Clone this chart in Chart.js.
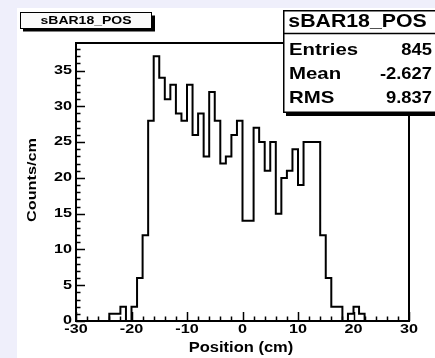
<!DOCTYPE html>
<html>
<head>
<meta charset="utf-8">
<script src="https://cdn.jsdelivr.net/npm/chart.js@4.4.1/dist/chart.umd.min.js"></script>
<style>
  html, body { margin: 0; padding: 0; background: #efeffb; }
  #wrap { position: relative; width: 435px; height: 358px; }
  canvas { display: block; }
</style>
</head>
<body>
<div id="wrap"><canvas id="c" width="435" height="358"></canvas></div>
<script>
// Histogram sBAR18_POS: bin edges (cm) and counts per 1 cm bin
const binEdges = [
  -30, -29, -28, -27, -26, -25, -24, -23, -22, -21,
  -20, -19, -18, -17, -16, -15, -14, -13, -12, -11,
  -10, -9, -8, -7, -6, -5, -4, -3, -2, -1,
  0, 1, 2, 3, 4, 5, 6, 7, 8, 9,
  10, 11, 12, 13, 14, 15, 16, 17, 18, 19,
  20, 21, 22, 23, 24, 25, 26, 27, 28, 29, 30
];
const counts = [
  0, 0, 0, 0, 0, 0, 1, 1, 2, 0,
  2, 6, 12, 28, 37, 34, 31, 33, 29, 28,
  33, 26, 29, 23, 32, 28, 22, 23, 26, 28,
  14, 14, 27, 25, 21, 25, 15, 20, 21, 24,
  19, 25, 25, 25, 12, 6, 2, 2, 0, 1,
  2, 1, 0, 0, 0, 0, 0, 0, 0, 0
];
const xTickValues = [-30, -20, -10, 0, 10, 20, 30];
const xTickLabels = ['-30', '-20', '-10', '0', '10', '20', '30'];
const yTickValues = [0, 5, 10, 15, 20, 25, 30, 35];
const yTickLabels = ['0', '5', '10', '15', '20', '25', '30', '35'];
const histTitle = 'sBAR18_POS';
const statNames = ['Entries', 'Mean', 'RMS'];
const statValues = ['845', '-2.627', '9.837'];
const xTitle = 'Position (cm)';
const yTitle = 'Counts/cm';

const yMax = Math.max(...counts) * 1.05;

// step outline: each bin's low edge carries its count, the last edge closes the final bin
const outline = binEdges.map((e, i) => ({ x: e, y: counts[Math.min(i, counts.length - 1)] }));

const FONT = '"Liberation Sans", Arial, sans-serif';

function stretchedText(ctx, text, x, y, size, align, sx, rot) {
  ctx.save();
  ctx.font = 'bold ' + size + 'px ' + FONT;
  ctx.textAlign = align;
  ctx.textBaseline = 'middle';
  ctx.fillStyle = '#000';
  ctx.translate(x, y);
  if (rot) ctx.rotate(rot);
  ctx.scale(sx, 1);
  ctx.fillText(text, 0, 0);
  ctx.restore();
}

const padPlugin = {
  id: 'rootPad',
  beforeDraw(chart) {
    const ctx = chart.ctx;
    ctx.save();
    ctx.fillStyle = '#efeffb';
    ctx.fillRect(0, 0, chart.width, chart.height);
    ctx.fillStyle = '#ffffff';
    ctx.fillRect(17, 8, chart.width - 17, chart.height - 8);
    ctx.restore();
  },
  afterDraw(chart) {
    const ctx = chart.ctx;
    const xs = chart.scales.x, ys = chart.scales.y;
    const a = chart.chartArea;
    ctx.save();
    ctx.strokeStyle = '#000';
    ctx.lineWidth = 2;
    // frame
    ctx.strokeRect(a.left, a.top, a.right - a.left, a.bottom - a.top);

    // y ticks drawn inward: major every 5, minor every 1
    ctx.lineWidth = 1.5;
    ctx.beginPath();
    for (let v = 0; v <= Math.floor(yMax); v++) {
      const py = Math.round(ys.getPixelForValue(v)) + 0.5;
      const len = v % 5 === 0 ? 9 : 4.5;
      ctx.moveTo(a.left, py);
      ctx.lineTo(a.left + len, py);
    }
    // x ticks drawn inward: major every 10, minor every 2
    for (let v = -30; v <= 30; v += 2) {
      const px = Math.round(xs.getPixelForValue(v)) + 0.5;
      const len = v % 10 === 0 ? 9 : 4.5;
      ctx.moveTo(px, a.bottom);
      ctx.lineTo(px, a.bottom - len);
    }
    ctx.stroke();

    // tick labels
    yTickValues.forEach((v, i) => {
      stretchedText(ctx, yTickLabels[i], a.left - 4, ys.getPixelForValue(v), 12, 'right', 1.35);
    });
    xTickValues.forEach((v, i) => {
      stretchedText(ctx, xTickLabels[i], xs.getPixelForValue(v), a.bottom + 9, 12, 'center', 1.35);
    });

    // axis titles
    stretchedText(ctx, xTitle, 241, 348, 14, 'center', 1.18);
    stretchedText(ctx, yTitle, 32, 180, 13, 'center', 1.25, -Math.PI / 2);

    // title box (top left)
    ctx.fillStyle = '#000';
    ctx.fillRect(23, 15.5, 132, 16);
    ctx.fillStyle = '#fafafa';
    ctx.fillRect(20, 12.5, 132, 16);
    ctx.lineWidth = 1;
    ctx.strokeRect(20.5, 12.5, 131, 16);
    stretchedText(ctx, histTitle, 86, 21, 10, 'center', 1.4);

    // statistics box (top right)
    const bx = 283, by = 10, bw = 170, bh = 103;
    ctx.fillStyle = '#000';
    ctx.fillRect(bx + 3, by + 3, bw, bh);
    ctx.fillStyle = '#ffffff';
    ctx.fillRect(bx, by, bw, bh);
    ctx.lineWidth = 1.5;
    ctx.strokeRect(bx + 0.75, by + 0.75, bw, bh - 1.5);
    ctx.beginPath();
    ctx.moveTo(bx, 33.5);
    ctx.lineTo(bx + bw, 33.5);
    ctx.stroke();
    stretchedText(ctx, histTitle, 357.5, 22, 19, 'center', 1.12);
    const rowY = [50, 74, 98];
    statNames.forEach((n, i) => {
      stretchedText(ctx, n, 289, rowY[i], 17, 'left', 1.2);
      stretchedText(ctx, statValues[i], 432, rowY[i], 17, 'right', 1.08);
    });
    ctx.restore();
  }
};

new Chart(document.getElementById('c'), {
  type: 'line',
  data: {
    datasets: [{
      label: histTitle,
      data: outline,
      stepped: 'before',
      borderColor: '#000',
      borderWidth: 2,
      pointRadius: 0,
      fill: false,
      tension: 0
    }]
  },
  options: {
    responsive: false,
    animation: false,
    devicePixelRatio: 1,
    layout: { padding: { left: 76, top: 43, right: 26, bottom: 37 } },
    plugins: { legend: { display: false }, tooltip: { enabled: false }, title: { display: false } },
    scales: {
      x: { type: 'linear', min: -30, max: 30, display: false },
      y: { type: 'linear', min: 0, max: yMax, display: false }
    }
  },
  plugins: [padPlugin]
});
</script>
</body>
</html>
